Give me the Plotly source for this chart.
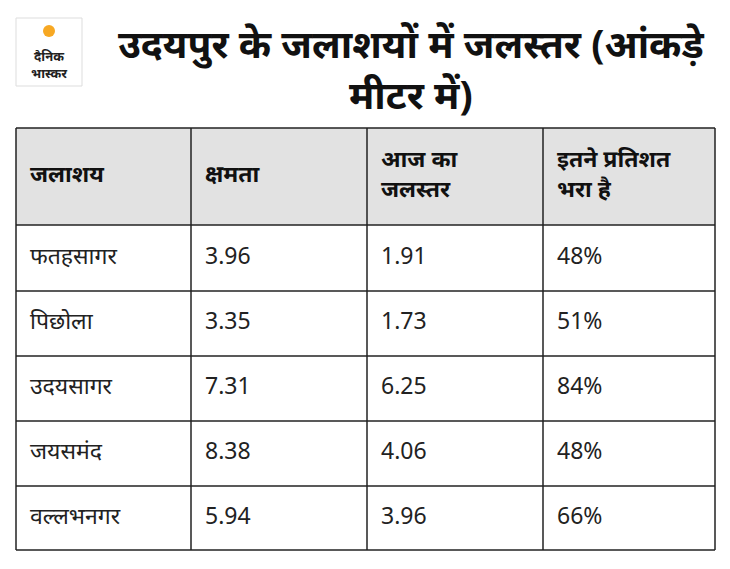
import plotly.graph_objects as go

reservoirs = ["फतहसागर", "पिछोला", "उदयसागर", "जयसमंद", "वल्लभनगर"]
capacity = ["3.96", "3.35", "7.31", "8.38", "5.94"]
today_level = ["1.91", "1.73", "6.25", "4.06", "3.96"]
percent_full = ["48%", "51%", "84%", "48%", "66%"]
headers = ["जलाशय", "क्षमता", "आज का<br>जलस्तर", "इतने प्रतिशत<br>भरा है"]

W, H = 730, 569
OFF = 8  # page body margin
col_edges = [16, 191, 367, 543, 715]
row_edges = [128, 225, 291, 356, 421, 486, 550]
FONT = "Noto Sans, sans-serif"

fig = go.Figure()

# header background and grid
fig.add_shape(type="rect", x0=16, x1=715, y0=128, y1=225, fillcolor="#e2e2e2",
              line=dict(width=0), layer="below")
for x in col_edges:
    fig.add_shape(type="line", x0=x, x1=x, y0=128, y1=550, line=dict(color="#222", width=1.5))
for y in row_edges:
    fig.add_shape(type="line", x0=16, x1=715, y0=y, y1=y, line=dict(color="#222", width=1.5))

# header text
fig.add_trace(go.Scatter(
    x=[e + 14 for e in col_edges[:4]], y=[(128 + 225) / 2] * 4,
    mode="text", text=["<b>%s</b>" % h for h in headers], textposition="middle right",
    textfont=dict(family=FONT, size=23, color="#111"), hoverinfo="skip"))

# body text
columns = [reservoirs, capacity, today_level, percent_full]
for ci, col in enumerate(columns):
    fig.add_trace(go.Scatter(
        x=[col_edges[ci] + 14] * len(col),
        y=[(row_edges[i + 1] + row_edges[i + 2]) / 2 for i in range(len(col))],
        mode="text", text=col, textposition="middle right",
        textfont=dict(family=FONT, size=23, color="#222"), hoverinfo="skip"))

# logo
fig.add_shape(type="rect", x0=16, x1=82, y0=18, y1=86,
              line=dict(color="#dddddd", width=1), fillcolor="white")
fig.add_shape(type="circle", x0=43, x1=55, y0=25, y1=37,
              line=dict(width=0), fillcolor="#f7a823")
fig.add_annotation(x=49, y=64, text="<b>दैनिक<br>भास्कर</b>", showarrow=False,
                   yanchor="middle", font=dict(family=FONT, size=13, color="#222"))

fig.add_annotation(x=411, y=68, yanchor="middle",
                   text="<b>उदयपुर के जलाशयों में जलस्तर (आंकड़े<br>मीटर में)</b>",
                   showarrow=False, align="center",
                   font=dict(family=FONT, size=39, color="#111"))

fig.update_xaxes(range=[OFF, W + OFF], visible=False, fixedrange=True)
fig.update_yaxes(range=[H + OFF, OFF], visible=False, fixedrange=True)
fig.update_layout(width=W, height=H, margin=dict(l=0, r=0, t=0, b=0),
                  paper_bgcolor="white", plot_bgcolor="white", showlegend=False)
fig.write_html("out.html")
